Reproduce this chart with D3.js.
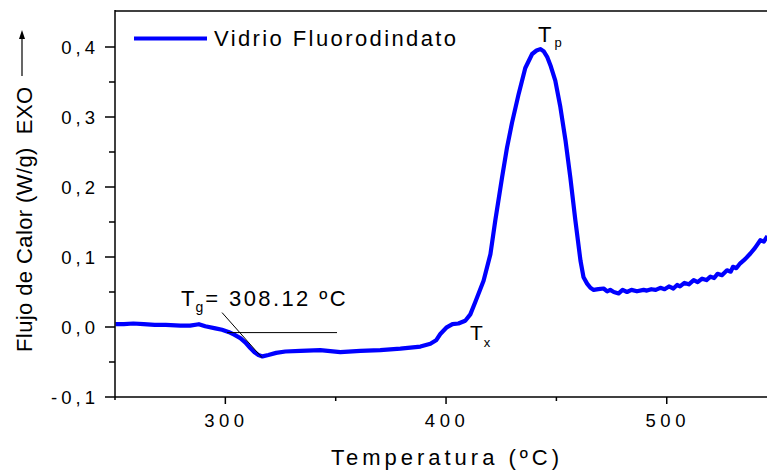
<!DOCTYPE html>
<html>
<head>
<meta charset="utf-8">
<script src="https://cdn.jsdelivr.net/npm/d3@7"></script>
<style>
  body { margin: 0; background: #fff; }
  svg text { font-family: "Liberation Sans", Arial, sans-serif; fill: #000; }
</style>
</head>
<body>
<svg id="chart" width="767" height="470"></svg>
<script>
// curve
const temperatura = [250.2, 254, 258.3, 263, 268, 273, 279.6, 284, 288, 290.9, 295.5, 298.5, 301.4, 304, 306.8, 309, 311.3, 313.2, 315.0, 316.8,
  319.5, 323, 327.2, 334.0, 343.0, 352.1, 361.2, 370.2, 379.3, 388.4, 392.9, 395.5, 397.4, 400.1, 402.9, 405.6, 408.7,
  411.0, 413.3, 417.0, 420.1, 422.3, 425.4, 427.6, 429.9, 432.9, 435.9, 439.0, 441.0, 442.7, 444.2, 445.8, 447.5, 449.5,
  451.8, 454.1, 456.3, 458.6, 460.9, 462.3, 463.9, 465.4, 466.9, 469, 471.4, 473, 474.4, 476, 478.2, 480, 482, 484, 486.5,
  489.5, 491, 493, 495, 497.1, 499, 501, 503, 504.7, 506, 508, 510, 512.2, 514, 516, 518, 519.8, 521.5, 523, 525, 527.3,
  529, 530, 531.5, 533.3, 535.5, 537.9, 540, 542.4, 544, 545.6];
const flujo = [0.004, 0.004, 0.005, 0.004, 0.003, 0.003, 0.002, 0.002, 0.004, 0.001, -0.002, -0.004, -0.007, -0.011, -0.016, -0.022, -0.03, -0.036, -0.04, -0.042,
  -0.04, -0.037, -0.035, -0.034, -0.033, -0.036, -0.034, -0.033, -0.031, -0.028, -0.024, -0.019, -0.01, -0.001, 0.004, 0.005, 0.009,
  0.018, 0.036, 0.066, 0.104, 0.152, 0.214, 0.256, 0.292, 0.333, 0.370, 0.390, 0.395, 0.397, 0.394, 0.386, 0.372, 0.352,
  0.314, 0.267, 0.214, 0.152, 0.095, 0.071, 0.062, 0.056, 0.053, 0.054, 0.055, 0.051, 0.053, 0.050, 0.048, 0.053, 0.050, 0.053, 0.051,
  0.053, 0.052, 0.054, 0.053, 0.056, 0.054, 0.058, 0.055, 0.060, 0.058, 0.063, 0.061, 0.067, 0.064, 0.069, 0.067, 0.072, 0.070, 0.076, 0.074, 0.081,
  0.079, 0.086, 0.084, 0.091, 0.097, 0.105, 0.113, 0.124, 0.122, 0.130];

const xTicks = [300, 400, 500];
const xMinor = [350, 450];
const yTicks = [-0.1, 0, 0.1, 0.2, 0.3, 0.4];
const yMinor = [-0.05, 0.05, 0.15, 0.25, 0.35];
const yTickLabels = ["-0,1", "0,0", "0,1", "0,2", "0,3", "0,4"];

// tangent construction for Tg
const tgHoriz = [[300.8, -0.008], [350.6, -0.008]];
const tgDiag = [[298.5, 0.0206], [316.6, -0.0437]];

const plotLeft = 115, plotTop = 12, plotBottom = 397;
const x = d3.scaleLinear().domain([250, 550]).range([plotLeft, plotLeft + 300 * 2.207]);
const y = d3.scaleLinear().domain([-0.1, 0.45]).range([plotBottom, plotTop]);

const svg = d3.select("#chart");

// curve
const data = temperatura.map((t, i) => [t, flujo[i]]);
svg.append("path")
  .datum(data)
  .attr("fill", "none")
  .attr("stroke", "#0000ff")
  .attr("stroke-width", 4.2)
  .attr("stroke-linejoin", "round")
  .attr("d", d3.line().x(d => x(d[0])).y(d => y(d[1])));

// tangent lines
const tl = d3.line().x(d => x(d[0])).y(d => y(d[1]));
svg.append("path").attr("d", tl(tgHoriz)).attr("stroke", "#000").attr("stroke-width", 1).attr("fill", "none");
svg.append("path").attr("d", tl(tgDiag)).attr("stroke", "#000").attr("stroke-width", 1).attr("fill", "none");

// frame
svg.append("line").attr("x1", plotLeft).attr("x2", 767).attr("y1", 11).attr("y2", 11)
  .attr("stroke", "#000").attr("stroke-width", 1.5);
svg.append("line").attr("x1", plotLeft).attr("x2", 767).attr("y1", plotBottom).attr("y2", plotBottom)
  .attr("stroke", "#000").attr("stroke-width", 1.5);
svg.append("line").attr("x1", plotLeft).attr("x2", plotLeft).attr("y1", 10).attr("y2", plotBottom + 3)
  .attr("stroke", "#000").attr("stroke-width", 1.5);

// y ticks
svg.selectAll("line.ymaj").data(yTicks).enter().append("line")
  .attr("x1", plotLeft - 10).attr("x2", plotLeft)
  .attr("y1", d => y(d)).attr("y2", d => y(d))
  .attr("stroke", "#000").attr("stroke-width", 1.5);
svg.selectAll("line.ymin").data(yMinor).enter().append("line")
  .attr("x1", plotLeft - 6).attr("x2", plotLeft)
  .attr("y1", d => y(d)).attr("y2", d => y(d))
  .attr("stroke", "#000").attr("stroke-width", 1.5);
svg.selectAll("text.ylab").data(yTicks).enter().append("text")
  .attr("x", 95 + 4)
  .attr("y", d => y(d) + 7)
  .attr("text-anchor", "end")
  .attr("font-size", "18.5px")
  .attr("letter-spacing", "4px")
  .text((d, i) => yTickLabels[i]);

// x ticks
svg.selectAll("line.xmaj").data(xTicks).enter().append("line")
  .attr("x1", d => x(d)).attr("x2", d => x(d))
  .attr("y1", plotBottom).attr("y2", plotBottom + 7)
  .attr("stroke", "#000").attr("stroke-width", 1.5);
svg.selectAll("line.xmin").data(xMinor).enter().append("line")
  .attr("x1", d => x(d)).attr("x2", d => x(d))
  .attr("y1", plotBottom).attr("y2", plotBottom + 4)
  .attr("stroke", "#000").attr("stroke-width", 1.5);
svg.selectAll("text.xlab").data(xTicks).enter().append("text")
  .attr("x", d => x(d) + 1)
  .attr("y", 427)
  .attr("text-anchor", "middle")
  .attr("font-size", "18.5px")
  .attr("letter-spacing", "4.5px")
  .text(d => d);

// axis titles
svg.append("text")
  .attr("x", 447).attr("y", 465)
  .attr("text-anchor", "middle")
  .attr("font-size", "22px")
  .attr("letter-spacing", "4px")
  .text("Temperatura (ºC)");

svg.append("text")
  .attr("transform", "translate(32,352) rotate(-90)")
  .attr("font-size", "22px")
  .attr("letter-spacing", "0.4px")
  .style("white-space", "pre")
  .text("Flujo de Calor (W/g)  EXO");
svg.append("line")
  .attr("x1", 22).attr("x2", 22).attr("y1", 76).attr("y2", 36)
  .attr("stroke", "#000").attr("stroke-width", 1.2);
svg.append("path")
  .attr("d", "M22,30 L19,39 L25,39 Z")
  .attr("fill", "#000");

// legend
svg.append("line")
  .attr("x1", 134).attr("x2", 207).attr("y1", 38.5).attr("y2", 38.5)
  .attr("stroke", "#0000ff").attr("stroke-width", 4);
svg.append("text")
  .attr("x", 214).attr("y", 46)
  .attr("font-size", "22px")
  .attr("letter-spacing", "2.4px")
  .text("Vidrio Fluorodindato");

// annotations
const tg = svg.append("text").attr("x", 181).attr("y", 306).attr("font-size", "22px");
tg.append("tspan").text("T");
tg.append("tspan").attr("font-size", "14px").attr("dx", 1).attr("dy", 6).text("g");
tg.append("tspan").attr("dy", -6).attr("dx", 2).attr("letter-spacing", "2.4px").text("= 308.12 ºC");

const tx = svg.append("text").attr("x", 470).attr("y", 340).attr("font-size", "21px");
tx.append("tspan").text("T");
tx.append("tspan").attr("font-size", "13px").attr("dx", 1).attr("dy", 7).text("x");

const tp = svg.append("text").attr("x", 538).attr("y", 42).attr("font-size", "22px");
tp.append("tspan").text("T");
tp.append("tspan").attr("font-size", "13px").attr("dx", 3).attr("dy", 5).text("p");
</script>
</body>
</html>
